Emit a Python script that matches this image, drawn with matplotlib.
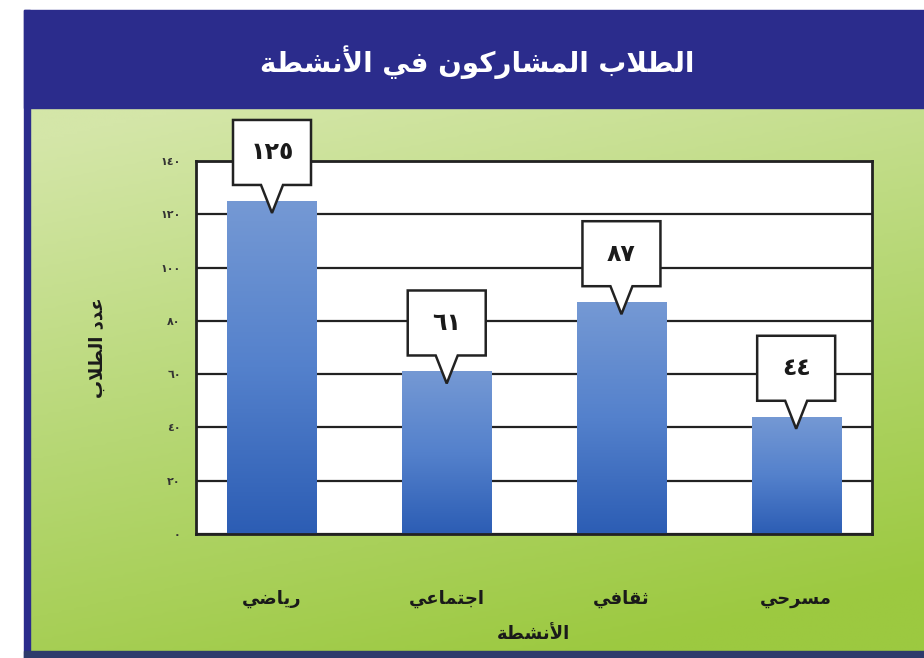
import numpy as np
import matplotlib
matplotlib.use("Agg")
import matplotlib.pyplot as plt
from matplotlib import transforms
from matplotlib.colors import LinearSegmentedColormap
from matplotlib.patches import Polygon, Rectangle

# data
title = "الطلاب المشاركون في الأنشطة"
x_label = "الأنشطة"
y_label = "عدد الطلاب"
activities = ["رياضي", "اجتماعي", "ثقافي", "مسرحي"]
students = [125, 61, 87, 44]
y_ticks = [0, 20, 40, 60, 80, 100, 120, 140]

plt.rcParams['font.family'] = ['DejaVu Sans']

# matplotlib does no Arabic shaping, so map letters to their
# presentation forms (isolated, final, initial, medial) by hand
FORMS = {
    'ا': ('\uFE8D', '\uFE8E'),
    'أ': ('\uFE83', '\uFE84'),
    'ب': ('\uFE8F', '\uFE90', '\uFE91', '\uFE92'),
    'ة': ('\uFE93', '\uFE94'),
    'ت': ('\uFE95', '\uFE96', '\uFE97', '\uFE98'),
    'ث': ('\uFE99', '\uFE9A', '\uFE9B', '\uFE9C'),
    'ج': ('\uFE9D', '\uFE9E', '\uFE9F', '\uFEA0'),
    'ح': ('\uFEA1', '\uFEA2', '\uFEA3', '\uFEA4'),
    'د': ('\uFEA9', '\uFEAA'),
    'ر': ('\uFEAD', '\uFEAE'),
    'س': ('\uFEB1', '\uFEB2', '\uFEB3', '\uFEB4'),
    'ش': ('\uFEB5', '\uFEB6', '\uFEB7', '\uFEB8'),
    'ض': ('\uFEBD', '\uFEBE', '\uFEBF', '\uFEC0'),
    'ط': ('\uFEC1', '\uFEC2', '\uFEC3', '\uFEC4'),
    'ع': ('\uFEC9', '\uFECA', '\uFECB', '\uFECC'),
    'ف': ('\uFED1', '\uFED2', '\uFED3', '\uFED4'),
    'ق': ('\uFED5', '\uFED6', '\uFED7', '\uFED8'),
    'ك': ('\uFED9', '\uFEDA', '\uFEDB', '\uFEDC'),
    'ل': ('\uFEDD', '\uFEDE', '\uFEDF', '\uFEE0'),
    'م': ('\uFEE1', '\uFEE2', '\uFEE3', '\uFEE4'),
    'ن': ('\uFEE5', '\uFEE6', '\uFEE7', '\uFEE8'),
    'و': ('\uFEED', '\uFEEE'),
    'ي': ('\uFEF1', '\uFEF2', '\uFEF3', '\uFEF4'),
}
LAM_ALEF = {'ا': ('\uFEFB', '\uFEFC'), 'أ': ('\uFEF7', '\uFEF8')}


def joins_next(ch):
    return ch in FORMS and len(FORMS[ch]) == 4


def shape(text):
    """Shape Arabic text and put it in visual (left to right) order."""
    out = []
    i = 0
    n = len(text)
    while i < n:
        ch = text[i]
        if ch not in FORMS:
            out.append(ch)
            i += 1
            continue
        link_prev = i > 0 and joins_next(text[i - 1])
        if ch == 'ل' and i + 1 < n and text[i + 1] in LAM_ALEF:
            out.append(LAM_ALEF[text[i + 1]][1 if link_prev else 0])
            i += 2
            continue
        link_next = joins_next(ch) and i + 1 < n and text[i + 1] in FORMS
        f = FORMS[ch]
        if link_prev and link_next:
            out.append(f[3])
        elif link_prev:
            out.append(f[1])
        elif link_next:
            out.append(f[2])
        else:
            out.append(f[0])
        i += 1
    return ''.join(reversed(out))


def arabic_digits(n):
    return str(n).translate(str.maketrans('0123456789', '٠١٢٣٤٥٦٧٨٩'))


fig = plt.figure(figsize=(9.24, 6.58), dpi=100)
fig.patch.set_facecolor('white')

# background: frame, banner and green gradient (pixel coordinates)
bg = fig.add_axes([0, 0, 1, 1])
u, v = np.meshgrid(np.linspace(0, 1, 200), np.linspace(0, 1, 200))
t = np.clip(0.85 * v + 0.3 * u - 0.05, 0, 1)
green = LinearSegmentedColormap.from_list('g', ['#d4e6a8', '#b6d774', '#9cc940'])
bg.imshow(t, cmap=green, extent=(30, 924, 651, 108), origin='upper', aspect='auto')
bg.add_patch(Rectangle((24, 10), 900, 98, color='#2b2c8c'))
bg.add_patch(Rectangle((24, 10), 6, 648, color='#2b2c8c'))
bg.add_patch(Rectangle((24, 651), 900, 7, color='#2e3b6c'))
bg.text(477, 62, shape(title), color='white', fontsize=20, fontweight='bold',
        ha='center', va='center')
bg.set_xlim(0, 924)
bg.set_ylim(658, 0)
bg.axis('off')

# main chart
ax = fig.add_axes([196 / 924, 1 - 534 / 658, 676 / 924, 373 / 658])
ax.set_facecolor('white')
x = np.arange(len(activities))
bars = ax.bar(x, students, width=0.51, color='none', edgecolor='none')

blue = LinearSegmentedColormap.from_list('b', ['#2c5db4', '#5481cc', '#7599d4'])
grad = np.linspace(0, 1, 256).reshape(-1, 1)
for b in bars:
    im = ax.imshow(grad, cmap=blue, origin='lower', aspect='auto', zorder=2,
                   extent=(b.get_x(), b.get_x() + b.get_width(), 0, b.get_height()))
    im.set_clip_path(b)

ax.set_xlim(-0.435, 3.434)
ax.set_ylim(0, 140)
ax.set_yticks(y_ticks)
ax.set_yticklabels([arabic_digits(v) for v in y_ticks], fontsize=8,
                   fontweight='bold', color='#333333')
ax.set_xticks(x)
ax.set_xticklabels([shape(a) for a in activities], fontsize=13,
                   fontweight='bold', color='#1a1a1a')
ax.tick_params(axis='y', length=0, pad=11)
ax.tick_params(axis='x', length=0, pad=40)
ax.set_axisbelow(True)
ax.yaxis.grid(True, color='#222222', linewidth=1.6)
for s in ax.spines.values():
    s.set_linewidth(2)
    s.set_color('#222222')

ax.set_xlabel(shape(x_label), fontsize=13, fontweight='bold', color='#1a1a1a',
              va='center')
ax.xaxis.set_label_coords(0.5, -(634 - 534) / 373)
ax.set_ylabel(shape(y_label), fontsize=13, fontweight='bold', color='#1a1a1a',
              va='center', ha='center')
ax.yaxis.set_label_coords((98 - 196) / 676, 0.5)

# value callouts (shape in pixels, anchored at the bar top)
callout = np.array([(-39, 16), (-11, 16), (0, -12), (11, 16), (39, 16),
                    (39, 81), (-39, 81)]) / 100.0
for xi, val in zip(x, students):
    trans = fig.dpi_scale_trans + transforms.ScaledTranslation(xi, val, ax.transData)
    ax.add_patch(Polygon(callout, closed=True, transform=trans, facecolor='white',
                         edgecolor='#222222', linewidth=1.8, zorder=5, clip_on=False))
    ax.text(0, 0.485, arabic_digits(val), transform=trans, ha='center', va='center',
            fontsize=17, fontweight='bold', color='#1a1a1a', zorder=6)

fig.savefig('out.png', dpi=100)
